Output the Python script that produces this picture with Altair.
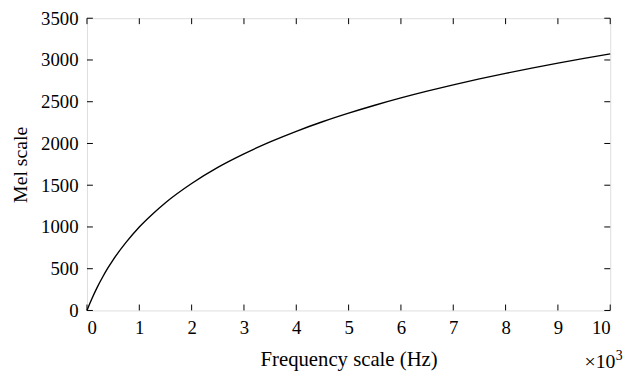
import altair as alt
import pandas as pd

# Frequency in kHz (axis shows x10^3 Hz) and mel values
freq_khz = [0, 0.05, 0.1, 0.2, 0.3, 0.4, 0.5, 0.75, 1, 1.25, 1.5, 2, 2.5, 3, 3.5, 4, 4.5, 5, 5.5, 6, 6.5, 7, 7.5, 8, 8.5, 9, 9.5, 10]
mel = [0, 77, 150, 283, 401, 509, 607, 818, 1000, 1153, 1291, 1521, 1714, 1876, 2019, 2146, 2260, 2363, 2458, 2546, 2627, 2702, 2773, 2840, 2903, 2962, 3019, 3073]
x_ticks = [0, 1, 2, 3, 4, 5, 6, 7, 8, 9, 10]
y_ticks = [0, 500, 1000, 1500, 2000, 2500, 3000, 3500]

W, H, TL = 530, 296, 6

df = pd.DataFrame({"f": freq_khz, "m": mel})
xt = pd.DataFrame({"v": x_ticks})
yt = pd.DataFrame({"v": y_ticks})
FONT = "Liberation Serif"

xs = alt.Scale(domain=[0, 10], nice=False, zero=False)
ys = alt.Scale(domain=[0, 3500], nice=False)

main = alt.Chart(df).mark_line(color="black", strokeWidth=1.4, interpolate="monotone").encode(
    x=alt.X("f:Q", scale=xs, axis=alt.Axis(
        orient="bottom", values=x_ticks, ticks=False, tickSize=0, domain=False, grid=False,
        format="d", labelFont=FONT, labelFontSize=19, labelColor="black", labelPadding=8,
        title="Frequency scale (Hz)", titleFont=FONT, titleFontSize=21,
        titleFontWeight="normal", titleColor="black", titlePadding=12)),
    y=alt.Y("m:Q", scale=ys, axis=alt.Axis(
        orient="left", values=y_ticks, ticks=False, tickSize=0, domain=False, grid=False,
        format="d", labelFont=FONT, labelFontSize=19, labelColor="black", labelPadding=9,
        title="Mel scale", titleFont=FONT, titleFontSize=20,
        titleFontWeight="normal", titleColor="black", titlePadding=10)),
)

tick_bottom = alt.Chart(xt).mark_rule(color="black", strokeWidth=1).encode(
    x=alt.X("v:Q", scale=xs, axis=None), y=alt.value(H), y2=alt.value(H - TL))
tick_top = alt.Chart(xt).mark_rule(color="black", strokeWidth=1).encode(
    x=alt.X("v:Q", scale=xs, axis=None), y=alt.value(0), y2=alt.value(TL))
tick_left = alt.Chart(yt).mark_rule(color="black", strokeWidth=1).encode(
    y=alt.Y("v:Q", scale=ys, axis=None), x=alt.value(0), x2=alt.value(TL))
tick_right = alt.Chart(yt).mark_rule(color="black", strokeWidth=1).encode(
    y=alt.Y("v:Q", scale=ys, axis=None), x=alt.value(W), x2=alt.value(W - TL))

exp_base = alt.Chart(pd.DataFrame({"t": ["×10"]})).mark_text(
    font=FONT, fontSize=20, color="black", align="left", baseline="alphabetic"
).encode(x=alt.value(504), y=alt.value(354), text="t:N")
exp_power = alt.Chart(pd.DataFrame({"t": ["3"]})).mark_text(
    font=FONT, fontSize=14, color="black", align="left", baseline="alphabetic"
).encode(x=alt.value(535.5), y=alt.value(346), text="t:N")

chart = alt.layer(main, tick_bottom, tick_top, tick_left, tick_right, exp_base, exp_power).resolve_axis(
    x="independent", y="independent"
).properties(
    width=W, height=H,
    autosize=alt.AutoSizeParams(type="none"),
    padding={"left": 80, "top": 8, "right": 18, "bottom": 62},
).configure_view(stroke="black", strokeWidth=1).configure(background="white")

chart.save("out.html", embed_options={"renderer": "svg", "actions": False})
